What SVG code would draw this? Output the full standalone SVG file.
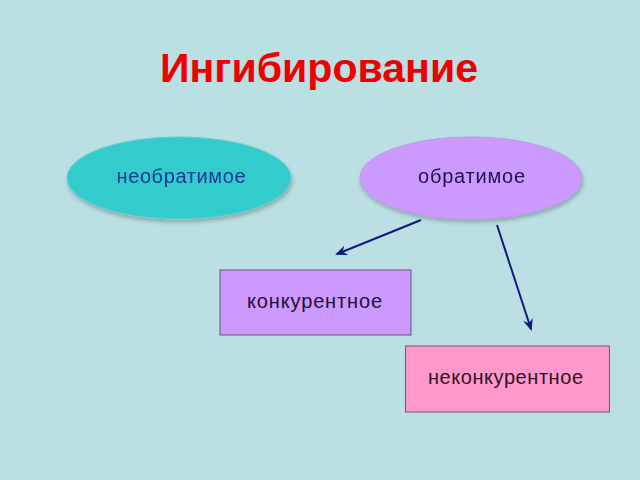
<svg xmlns="http://www.w3.org/2000/svg" width="640" height="480" viewBox="0 0 640 480">
<defs>
<style>
.lbl{font-family:"Liberation Sans",Arial,sans-serif;font-size:20px;text-anchor:middle}
.conn{stroke:#0a1a80;stroke-width:2;fill:none}
</style>
<marker id="ah" viewBox="0 0 12 10" refX="10" refY="5" markerWidth="12" markerHeight="10" markerUnits="userSpaceOnUse" orient="auto">
<path d="M0,0 L12,5 L0,10 L4,5 z" fill="#0a1a80"/>
</marker>
<filter id="sh" x="-10%" y="-10%" width="120%" height="130%">
<feGaussianBlur in="SourceAlpha" stdDeviation="2"/>
<feOffset dx="1" dy="3"/>
<feComponentTransfer><feFuncA type="linear" slope="0.25"/></feComponentTransfer>
<feMerge><feMergeNode/><feMergeNode in="SourceGraphic"/></feMerge>
</filter>
</defs>
<rect width="640" height="480" fill="#BAE0E3"/>
<text x="319" y="82" font-family="Liberation Sans,Arial,sans-serif" font-weight="bold" font-size="40" fill="#EE0000" text-anchor="middle" textLength="318" lengthAdjust="spacingAndGlyphs">Ингибирование</text>
<g id="n1" filter="url(#sh)">
<ellipse cx="179" cy="178" rx="112" ry="41" fill="#33CCCC" stroke="#66CCCC" stroke-width="1"/>
<text class="lbl" x="181" y="183" fill="#1A3599" textLength="129">необратимое</text>
</g>
<g id="n2" filter="url(#sh)">
<ellipse cx="471" cy="178" rx="111" ry="41" fill="#CC99FF" stroke="#BB99EE" stroke-width="1"/>
<text class="lbl" x="471.5" y="183" fill="#221055" textLength="107">обратимое</text>
</g>
<g id="n3">
<rect x="220" y="270" width="191" height="65" fill="#CC99FF" stroke="#665577" stroke-width="1"/>
<text class="lbl" x="314.5" y="308" fill="#221133" textLength="135">конкурентное</text>
</g>
<g id="n4">
<rect x="405.5" y="346" width="204" height="66" fill="#FF99CC" stroke="#775566" stroke-width="1"/>
<text class="lbl" x="505.5" y="384" fill="#331122" textLength="155">неконкурентное</text>
</g>
<g id="connectors">
<line class="conn" x1="421" y1="220" x2="337" y2="254" marker-end="url(#ah)"/>
<line class="conn" x1="497" y1="225" x2="531" y2="329" marker-end="url(#ah)"/>
</g>
</svg>
